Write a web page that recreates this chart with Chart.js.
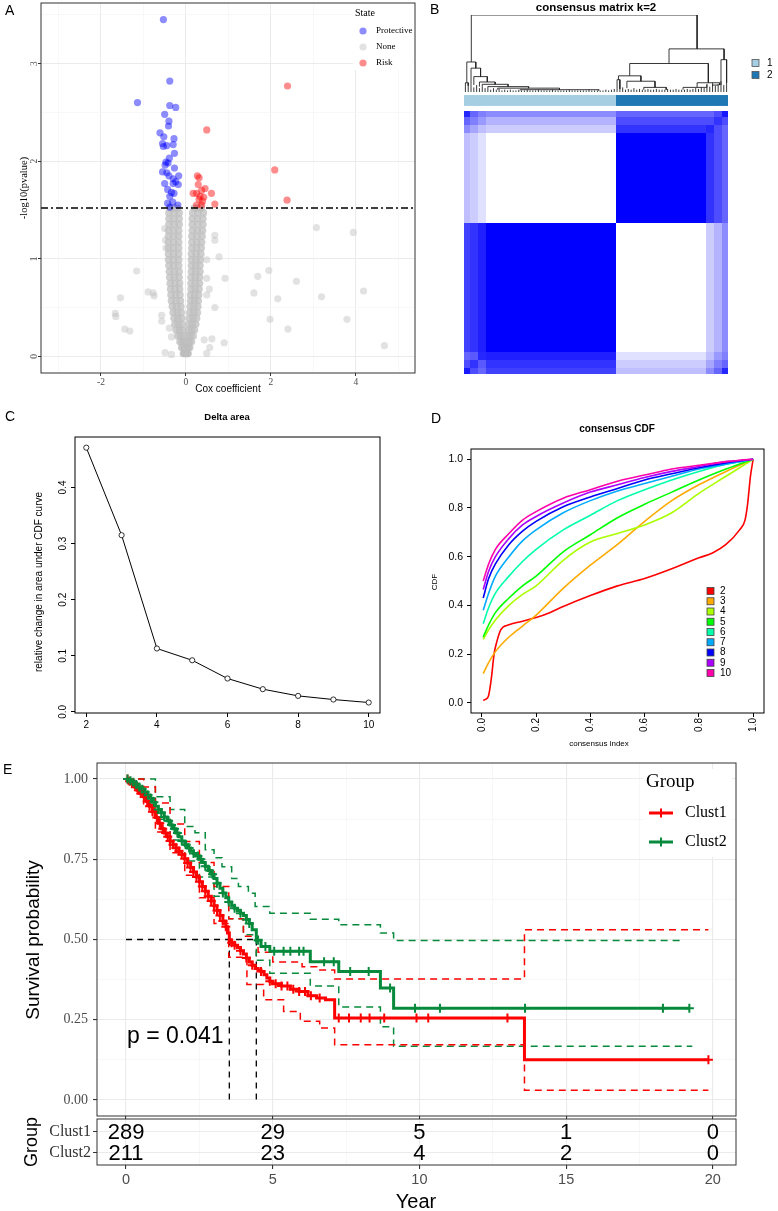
<!DOCTYPE html>
<html>
<head>
<meta charset="utf-8">
<script src="https://cdn.jsdelivr.net/npm/chart.js@4.4.1/dist/chart.umd.min.js"></script>
<style>
  body { margin: 0; background: #fff; }
  #fig { position: relative; width: 778px; height: 1211px; overflow: hidden; }
  #fig canvas { position: absolute; }
  .tag { position: absolute; font: 14px "Liberation Sans", Arial, sans-serif; color: #000; }
</style>
</head>
<body>
<div id="fig">
  <canvas id="cA" width="430" height="395" style="left:0;top:0"></canvas>
  <canvas id="cB" width="348" height="392" style="left:430px;top:0"></canvas>
  <canvas id="cC" width="390" height="335" style="left:0;top:398px"></canvas>
  <canvas id="cD" width="388" height="355" style="left:390px;top:400px"></canvas>
  <canvas id="cE" width="778" height="364" style="left:0;top:755px"></canvas>
  <canvas id="cT" width="778" height="95" style="left:0;top:1116px"></canvas>
  <div class="tag" style="left:5px;top:2px">A</div>
  <div class="tag" style="left:430px;top:1px">B</div>
  <div class="tag" style="left:5px;top:408px">C</div>
  <div class="tag" style="left:431px;top:410px">D</div>
  <div class="tag" style="left:3px;top:761px">E</div>
</div>
<script>
// ---------- A: univariate Cox volcano ----------
const pCut = 1.52;               // -log10(0.03)
const xRangeA = [-3.41, 5.39];
const stateNames = ["Protective", "None", "Risk"];
// significant protective genes
const bx = [-0.53,-0.38,-1.14,-0.38,-0.24,-0.50,-0.40,-0.41,-0.61,-0.52,-0.28,-0.55,-0.45,-0.30,-0.53,-0.27,-0.39,-0.47,-0.42,-0.49,-0.27,-0.55,-0.45,-0.40,-0.17,-0.30,-0.24,-0.50,-0.30,-0.18,-0.43,-0.34,-0.28,-0.38,-0.43,-0.19,-0.38,-0.31];
const by = [3.45,2.82,2.60,2.57,2.55,2.48,2.41,2.36,2.29,2.25,2.23,2.18,2.16,2.17,2.15,2.08,2.03,1.99,1.98,1.96,1.93,1.89,1.88,1.85,1.85,1.82,1.79,1.77,1.77,1.76,1.71,1.68,1.67,1.64,1.57,1.55,1.53,1.58];
// significant risk genes
const rx = [2.39,0.49,2.09,2.38,0.27,0.31,0.29,0.45,0.37,0.17,0.25,0.60,0.42,0.31,0.39,0.68,0.25,0.37,0.33];
const ry = [2.77,2.32,1.91,1.60,1.85,1.83,1.76,1.72,1.70,1.67,1.67,1.67,1.63,1.61,1.59,1.56,1.55,1.55,1.64];
// non-significant outliers
const gx = [3.07,3.94,0.68,0.68,0.78,-1.16,0.92,1.95,1.69,2.60,1.60,2.16,3.19,4.18,-0.89,-0.77,-0.75,-1.54,0.55,0.49,0.68,-1.66,-1.65,-0.57,-0.57,-1.44,-1.32,1.98,2.40,3.79,4.67,-0.39,-0.34,0.43,0.61,0.90,0.56,0.49,-0.49,-0.34,0.49,0.49,-0.47,-0.48,-0.50];
const gy = [1.32,1.27,1.24,1.19,1.02,0.875,0.80,0.88,0.82,0.77,0.65,0.59,0.61,0.67,0.66,0.65,0.62,0.60,0.69,0.63,0.50,0.44,0.41,0.42,0.36,0.28,0.26,0.38,0.28,0.38,0.11,0.29,0.20,0.17,0.18,0.14,0.09,0.03,0.04,0.02,0.99,0.80,1.11,1.19,1.31];
// dense non-significant "V": rows of -log10(p) with left / right arm coefficients
const vY  = [0.03,0.09,0.15,0.21,0.27,0.33,0.39,0.45,0.51,0.57,0.63,0.69,0.75,0.81,0.87,0.93,0.99,1.05,1.11,1.17,1.23,1.29,1.35,1.41,1.47,1.52];
const vLo = [-0.06,-0.10,-0.14,-0.19,-0.23,-0.26,-0.28,-0.30,-0.32,-0.34,-0.35,-0.36,-0.37,-0.38,-0.39,-0.40,-0.41,-0.41,-0.41,-0.41,-0.41,-0.41,-0.40,-0.40,-0.40,-0.36];
const vLm = [-0.04,-0.065,-0.09,-0.125,-0.15,-0.175,-0.19,-0.205,-0.22,-0.235,-0.245,-0.255,-0.26,-0.27,-0.275,-0.285,-0.29,-0.29,-0.29,-0.29,-0.29,-0.29,-0.28,-0.28,-0.28,-0.28];
const vLi = [-0.02,-0.03,-0.04,-0.06,-0.07,-0.09,-0.10,-0.11,-0.12,-0.13,-0.14,-0.15,-0.15,-0.16,-0.16,-0.17,-0.17,-0.17,-0.17,-0.17,-0.17,-0.17,-0.16,-0.16,-0.16,-0.20];
const vRi = [0.02,0.03,0.04,0.05,0.06,0.07,0.08,0.09,0.10,0.11,0.11,0.12,0.12,0.12,0.13,0.13,0.13,0.13,0.14,0.14,0.14,0.15,0.15,0.15,0.16,0.20];
const vRm = [0.035,0.06,0.085,0.11,0.13,0.15,0.165,0.18,0.19,0.20,0.205,0.215,0.22,0.22,0.23,0.23,0.235,0.24,0.25,0.255,0.26,0.27,0.275,0.275,0.285,0.28];
const vRo = [0.05,0.09,0.13,0.17,0.20,0.23,0.25,0.27,0.28,0.29,0.30,0.31,0.32,0.32,0.33,0.33,0.34,0.35,0.36,0.37,0.38,0.39,0.40,0.40,0.41,0.36];

// ---------- B: consensus matrix k=2 ----------
const gStart = [0, 2, 5, 8, 54, 86, 89, 92];     // sample groups in dendrogram order
const gSize  = [2, 3, 3, 46, 32, 3, 3, 2];
const consensus = [
  [0.90,0.70,0.60,0.75,0.25,0.45,0.60,0.85],
  [0.70,0.80,0.65,0.80,0.20,0.35,0.50,0.60],
  [0.60,0.65,0.85,0.88,0.12,0.25,0.40,0.50],
  [0.75,0.80,0.88,1.00,0.00,0.20,0.30,0.45],
  [0.25,0.20,0.12,0.00,1.00,0.80,0.70,0.60],
  [0.45,0.35,0.25,0.20,0.80,0.85,0.70,0.60],
  [0.60,0.50,0.40,0.30,0.70,0.70,0.80,0.70],
  [0.85,0.60,0.50,0.45,0.60,0.60,0.70,0.90]
];
const clusterStart = [0, 54];
const clusterSize  = [54, 40];
const clusterCols  = ["#A6CEE3", "#1F78B4"];
// dendrogram merges: [x left child, x right child, merge height, left child height, right child height]
const dMerge = [
  [2.6, 83, 1.00, 0.39, 0.56],
  [1.0, 4.2, 0.39, 0.12, 0.31],
  [0.5, 1.5, 0.12, 0.12, 0.08],
  [2.5, 5.9, 0.31, 0.10, 0.20],
  [3.5, 8.3, 0.20, 0.09, 0.13],
  [5.5, 11.1, 0.13, 0.07, 0.10],
  [6.5, 15.7, 0.10, 0.07, 0.07],
  [8.5, 23, 0.07, 0.04, 0.05],
  [12, 34, 0.05, 0.03, 0.03],
  [20, 48, 0.03, 0.02, 0.02],
  [73, 92.6, 0.56, 0.37, 0.42],
  [91.5, 93.5, 0.42, 0.09, 0.12],
  [59, 87, 0.37, 0.21, 0.12],
  [55, 63, 0.21, 0.16, 0.14],
  [54.5, 55.5, 0.16, 0.05, 0.04],
  [58, 68, 0.14, 0.05, 0.06],
  [64, 72, 0.06, 0.03, 0.03],
  [83, 91, 0.12, 0.06, 0.09],
  [78, 86.5, 0.06, 0.03, 0.10],
  [88.5, 90.5, 0.09, 0.08, 0.10]
];
const leafH = [0.12,0.08,0.10,0.06,0.09,0.05,0.07,0.05,
  0.04,0.03,0.05,0.03,0.04,0.02,0.03,0.02,0.03,0.02,0.02,0.03,0.02,0.02,0.03,0.02,0.02,0.02,0.03,0.02,0.02,0.02,0.02,0.03,0.02,0.02,0.02,0.02,0.02,0.03,0.02,0.02,0.02,0.02,0.02,0.02,0.03,0.02,0.02,0.02,0.02,0.02,0.03,0.02,0.03,0.04,
  0.05,0.04,0.06,0.03,0.04,0.03,0.05,0.03,0.04,0.03,0.03,0.04,0.03,0.03,0.04,0.03,0.03,0.03,0.04,0.03,0.03,0.04,0.03,0.03,0.03,0.04,0.03,0.04,0.05,0.04,0.06,0.05,
  0.10,0.07,0.12,0.08,0.10,0.14,0.09,0.12];

// ---------- C: delta area ----------
const kVals = [2, 3, 4, 5, 6, 7, 8, 9, 10];
const deltaArea = [0.471, 0.315, 0.113, 0.092, 0.0595, 0.0405, 0.0285, 0.022, 0.0167];

// ---------- D: consensus CDF ----------
const cdf2X = [0.005,0.015,0.025,0.035,0.045,0.055,0.07,0.1,0.15,0.2,0.25,0.3,0.4,0.5,0.6,0.7,0.8,0.85,0.9,0.95,0.97,0.98,0.99,1.0];
const cdf2  = [0.01,0.015,0.03,0.10,0.20,0.25,0.30,0.32,0.335,0.35,0.37,0.395,0.44,0.48,0.51,0.55,0.595,0.615,0.65,0.71,0.75,0.82,0.93,1.0];
const cdfX  = [0.005,0.025,0.05,0.1,0.15,0.2,0.3,0.4,0.5,0.6,0.7,0.8,0.9,0.95,1.0];
const cdf3  = [0.12,0.165,0.21,0.27,0.315,0.36,0.47,0.565,0.65,0.745,0.83,0.895,0.95,0.975,1.0];
const cdf4  = [0.26,0.30,0.34,0.40,0.445,0.48,0.585,0.66,0.695,0.73,0.78,0.86,0.93,0.965,1.0];
const cdf5  = [0.27,0.32,0.37,0.43,0.48,0.52,0.62,0.69,0.76,0.815,0.865,0.915,0.96,0.98,1.0];
const cdf6  = [0.325,0.39,0.45,0.52,0.58,0.63,0.71,0.77,0.83,0.875,0.915,0.95,0.98,0.99,1.0];
const cdf7  = [0.38,0.45,0.52,0.60,0.665,0.71,0.78,0.83,0.87,0.90,0.93,0.96,0.98,0.99,1.0];
const cdf8  = [0.43,0.51,0.57,0.65,0.705,0.745,0.805,0.845,0.88,0.915,0.94,0.965,0.985,0.993,1.0];
const cdf9  = [0.465,0.54,0.60,0.675,0.73,0.765,0.82,0.865,0.895,0.925,0.95,0.97,0.99,0.995,1.0];
const cdf10 = [0.50,0.57,0.63,0.695,0.75,0.785,0.84,0.875,0.91,0.935,0.96,0.975,0.99,0.996,1.0];
const kCols = ["#FF0000","#FFAA00","#AAFF00","#00FF00","#00FFAA","#00AAFF","#0000FF","#AA00FF","#FF00AA"];

// ---------- E: Kaplan-Meier ----------
const groupNames = ["Clust1", "Clust2"];
const km1T = [0,0.1,0.2,0.3,0.4,0.5,0.6,0.7,0.8,0.9,1.0,1.1,1.2,1.3,1.4,1.5,1.6,1.7,1.8,1.9,2.0,2.1,2.2,2.3,2.4,2.5,2.6,2.7,2.8,2.9,3.0,3.1,3.2,3.3,3.4,3.46,3.52,3.6,3.7,3.8,3.9,4.0,4.1,4.2,4.3,4.4,4.5,4.6,4.7,4.8,4.9,5.0,5.3,5.6,5.9,6.2,6.5,6.8,7.11,13.58,19.85];
const km1S = [1,0.993,0.985,0.975,0.965,0.955,0.945,0.93,0.915,0.898,0.88,0.862,0.845,0.832,0.82,0.807,0.795,0.785,0.775,0.765,0.752,0.738,0.724,0.71,0.695,0.68,0.665,0.65,0.635,0.62,0.605,0.59,0.575,0.558,0.54,0.52,0.498,0.49,0.482,0.475,0.465,0.455,0.442,0.43,0.42,0.41,0.405,0.40,0.39,0.38,0.37,0.362,0.355,0.345,0.338,0.325,0.318,0.312,0.255,0.125,0.125];
const km2T = [0,0.1,0.2,0.3,0.4,0.5,0.6,0.7,0.8,0.9,1.0,1.1,1.2,1.3,1.4,1.5,1.6,1.7,1.8,1.9,2.0,2.1,2.2,2.3,2.4,2.5,2.6,2.7,2.8,2.9,3.0,3.1,3.2,3.3,3.4,3.5,3.6,3.7,3.8,3.9,4.0,4.1,4.2,4.3,4.44,4.6,4.9,6.28,7.25,8.67,9.12,19.2];
const km2S = [1,0.995,0.99,0.983,0.975,0.968,0.96,0.95,0.94,0.928,0.915,0.905,0.895,0.882,0.87,0.857,0.845,0.832,0.82,0.807,0.795,0.785,0.775,0.768,0.76,0.75,0.74,0.728,0.715,0.703,0.69,0.675,0.66,0.645,0.63,0.617,0.605,0.597,0.59,0.582,0.575,0.562,0.55,0.53,0.498,0.478,0.463,0.431,0.40,0.349,0.286,0.286];
const ci1UpT = [0,0.3,0.6,1.0,1.5,2.0,2.5,3.0,3.5,4.0,4.5,5.0,6.0,6.5,7.11,13.58,19.85];
const ci1UpS = [1.0,1.0,0.975,0.925,0.86,0.805,0.74,0.665,0.565,0.51,0.46,0.43,0.415,0.405,0.377,0.53,0.53];
const ci1LoT = [0,0.3,0.6,1.0,1.5,2.0,2.5,3.0,3.5,4.12,4.69,5.37,5.94,6.6,7.11,13.58,19.85];
const ci1LoS = [1.0,0.96,0.92,0.835,0.77,0.70,0.63,0.55,0.445,0.36,0.312,0.276,0.245,0.224,0.172,0.03,0.03];
const ci2UpT = [0,0.5,1.0,1.5,2.0,2.35,2.7,3.0,3.27,3.6,3.83,4.17,4.4,4.9,6.28,7.25,8.67,9.12,18.96];
const ci2UpS = [1.0,1.0,0.945,0.905,0.852,0.833,0.78,0.755,0.727,0.69,0.665,0.644,0.603,0.582,0.563,0.546,0.52,0.497,0.497];
const ci2LoT = [0,0.2,0.5,1.0,1.5,2.0,2.5,3.0,3.5,4.0,4.44,4.9,6.28,7.25,8.67,9.12,19.3];
const ci2LoS = [1.0,0.975,0.945,0.875,0.81,0.745,0.695,0.635,0.565,0.515,0.435,0.395,0.355,0.29,0.228,0.167,0.167];
const cens1 = [0.05,0.12,0.2,0.28,0.35,0.42,0.5,0.58,0.65,0.72,0.8,0.9,0.98,1.05,1.15,1.25,1.35,1.42,1.5,1.6,1.7,1.8,1.9,2.0,2.1,2.2,2.3,2.4,2.5,2.6,2.7,2.8,2.9,3.0,3.1,3.2,3.3,3.4,3.6,3.7,3.9,4.1,4.3,4.6,4.9,5.1,5.3,5.5,5.7,5.9,6.1,6.3,6.6,7.25,7.6,8.0,8.3,8.8,9.9,10.3,13.0,19.85];
const cens2 = [0.05,0.15,0.25,0.35,0.45,0.55,0.65,0.75,0.85,0.95,1.1,1.2,1.3,1.45,1.55,1.65,1.75,1.9,2.05,2.15,2.3,2.45,2.55,2.7,2.85,2.95,3.1,3.3,3.5,3.7,3.9,4.1,4.2,4.5,4.75,5.05,5.37,5.6,5.9,6.05,6.75,7.08,7.64,8.27,9.0,9.85,10.7,13.6,18.3,19.2];
const medianT = [3.52, 4.44];
const riskT = [0, 5, 10, 15, 20];
const risk1 = [289, 29, 5, 1, 0];
const risk2 = [211, 23, 4, 2, 0];
const pText = "p = 0.041";

// ---------- helpers ----------
const SANS = '"Liberation Sans", Arial, sans-serif';
const SERIF = '"Liberation Serif", "Times New Roman", serif';
Chart.defaults.font.family = SANS;
const colProt = "rgba(0,0,255,0.45)", colNone = "rgba(190,190,190,0.45)", colRisk = "rgba(255,0,0,0.45)";
const colNoneDense = "rgba(190,190,190,0.75)";   // heavy overplotting inside the V
const colR = "#FF0000", colG = "#078A3C";

const pts = (xs, ys) => xs.map((x, i) => ({ x, y: ys[i] }));
const near = (v, m) => Math.abs(v / m - Math.round(v / m)) < 1e-6;
const fixW = w => s => { s.width = w; s.paddingTop = 0; s.paddingBottom = 0; };
const fixH = h => s => { s.height = h; s.paddingLeft = 0; s.paddingRight = 0; };
const stepAt = (T, S, t) => { let s = S[0]; T.forEach((v, i) => { if (v <= t) s = S[i]; }); return s; };

function base(padding) {
  return {
    responsive: false, animation: false, events: [],
    layout: { padding, autoPadding: false },
    plugins: { legend: { display: false }, tooltip: { enabled: false } }
  };
}
function texts(items) {
  return { id: "texts", afterDraw(chart) {
    const ctx = chart.ctx;
    items.forEach(t => {
      ctx.save();
      ctx.font = t.font; ctx.fillStyle = t.color || "#000";
      ctx.textAlign = t.align || "center"; ctx.textBaseline = "middle";
      ctx.translate(t.x, t.y);
      if (t.rot) ctx.rotate(t.rot * Math.PI / 180);
      ctx.fillText(t.text, 0, 0);
      ctx.restore();
    });
  } };
}
function frame(color, width) {
  return { id: "frame", afterDraw(chart) {
    const { ctx, chartArea: a } = chart;
    ctx.save(); ctx.strokeStyle = color; ctx.lineWidth = width;
    ctx.strokeRect(a.left, a.top, a.right - a.left, a.bottom - a.top);
    ctx.restore();
  } };
}
// tick labels turned parallel to a vertical axis (R / rotated ggplot style)
function rotLabels(axis, x, font, color) {
  return { id: "rotLabels", afterDraw(chart) {
    const s = chart.scales[axis], ctx = chart.ctx;
    ctx.save(); ctx.font = font; ctx.fillStyle = color;
    ctx.textAlign = "center"; ctx.textBaseline = "middle";
    s.ticks.forEach(t => {
      if (t.label === "" || t.label == null) return;
      ctx.save(); ctx.translate(x, s.getPixelForValue(t.value)); ctx.rotate(-Math.PI / 2);
      ctx.fillText(t.label, 0, 0); ctx.restore();
    });
    ctx.restore();
  } };
}
const gridMajor = (m, major, minor) => c => (c.tick && near(c.tick.value, m)) ? major : minor;

// ---------- A ----------
const denseData = [];
vY.forEach((y, i) => [vLo, vLm, vLi, vRi, vRm, vRo].forEach(arm => denseData.push({ x: arm[i], y })));

const legendA = { id: "legendA", afterDraw(chart) {
  const ctx = chart.ctx, cols = [colProt, colNone, colRisk];
  ctx.save();
  ctx.fillStyle = "#fff"; ctx.fillRect(353, 4, 61, 66);
  ctx.textAlign = "left"; ctx.textBaseline = "middle";
  ctx.fillStyle = "#000"; ctx.font = "10px " + SERIF; ctx.fillText("State", 355, 13);
  ctx.font = "9px " + SERIF;
  stateNames.forEach((n, i) => {
    const y = 31 + i * 16;
    ctx.beginPath(); ctx.arc(363, y, 3.6, 0, 2 * Math.PI); ctx.fillStyle = cols[i]; ctx.fill();
    ctx.fillStyle = "#000"; ctx.fillText(n, 376, y);
  });
  ctx.restore();
} };

new Chart(document.getElementById("cA"), {
  type: "scatter",
  data: { datasets: [
    { type: "line", data: [{ x: xRangeA[0], y: pCut }, { x: xRangeA[1], y: pCut }], borderColor: "#000", borderWidth: 1.3, borderDash: [7, 3, 2, 3], pointRadius: 0, order: 0 },
    { label: "Risk", data: pts(rx, ry), backgroundColor: colRisk, borderWidth: 0, pointRadius: 3.6, order: 1 },
    { label: "Protective", data: pts(bx, by), backgroundColor: colProt, borderWidth: 0, pointRadius: 3.6, order: 2 },
    { label: "None", data: pts(gx, gy), backgroundColor: colNone, borderWidth: 0, pointRadius: 3.6, order: 3 },
    { label: "None", data: denseData, backgroundColor: colNoneDense, borderWidth: 0, pointRadius: 3.8, order: 4 }
  ] },
  options: { ...base({ left: 0, top: 3, right: 15, bottom: 0 }),
    scales: {
      x: { type: "linear", min: xRangeA[0], max: xRangeA[1], afterFit: fixH(22), border: { display: false },
        ticks: { stepSize: 1, includeBounds: false, autoSkip: false, maxRotation: 0, padding: 1, color: "#4D4D4D",
          font: { family: SERIF, size: 9.5 }, callback: v => near(v, 2) ? String(v) : "" },
        grid: { color: gridMajor(2, "#EBEBEB", "#F4F4F4"), lineWidth: gridMajor(2, 1, 0.6), tickLength: 3,
          tickColor: gridMajor(2, "#333", "rgba(0,0,0,0)") } },
      y: { type: "linear", min: -0.17, max: 3.62, afterFit: fixW(41), border: { display: false },
        ticks: { display: false, stepSize: 0.5, includeBounds: false, callback: v => near(v, 1) ? String(v) : "" },
        grid: { color: gridMajor(1, "#EBEBEB", "#F4F4F4"), lineWidth: gridMajor(1, 1, 0.6), tickLength: 3,
          tickColor: gridMajor(1, "#333", "rgba(0,0,0,0)") } }
    } },
  plugins: [frame("#333", 1), rotLabels("y", 34, "9.5px " + SERIF, "#4D4D4D"), legendA,
    texts([
      { text: "Cox coefficient", x: 228, y: 389, font: "10px " + SANS },
      { text: "-log10(pvalue)", x: 24, y: 188, rot: -90, font: "10.5px " + SERIF }
    ])]
});

// ---------- B ----------
const dendro = [];
dMerge.forEach(([xl, xr, h, hl, hr]) => {
  dendro.push({ x: xl, y: hl }, { x: xl, y: h }, { x: xr, y: h }, { x: xr, y: hr }, { x: xr, y: null });
});
leafH.forEach((h, i) => dendro.push({ x: i + 0.5, y: 0 }, { x: i + 0.5, y: h }, { x: i + 0.5, y: null }));

const heatB = { id: "heatB",
  beforeDatasetsDraw(chart) {
    const { ctx, scales: { x, y } } = chart;
    ctx.save();
    gStart.forEach((cs, i) => gStart.forEach((rs, j) => {
      const x0 = Math.round(x.getPixelForValue(cs)), x1 = Math.round(x.getPixelForValue(cs + gSize[i]));
      const y0 = Math.round(y.getPixelForValue(rs + gSize[j])), y1 = Math.round(y.getPixelForValue(rs));
      const c = Math.round(255 * (1 - consensus[j][i]));
      ctx.fillStyle = `rgb(${c},${c},255)`;
      ctx.fillRect(x0, y0, x1 - x0, y1 - y0);
    }));
    clusterStart.forEach((s, i) => {
      const x0 = Math.round(x.getPixelForValue(s)), x1 = Math.round(x.getPixelForValue(s + clusterSize[i]));
      const y0 = y.getPixelForValue(99.7), y1 = y.getPixelForValue(95.8);
      ctx.fillStyle = clusterCols[i];
      ctx.fillRect(x0, y0, x1 - x0, y1 - y0);
    });
    ctx.restore();
  },
  afterDraw(chart) {
    const { ctx, scales: { x } } = chart;
    ctx.save();
    ctx.fillStyle = "#000"; ctx.font = "bold 11.5px " + SANS; ctx.textAlign = "center"; ctx.textBaseline = "middle";
    ctx.fillText("consensus matrix k=2", x.getPixelForValue(47), 8);
    ctx.font = "10px " + SANS; ctx.textAlign = "left";
    clusterCols.forEach((c, i) => {
      const yy = 63 + i * 12;
      ctx.fillStyle = c; ctx.fillRect(322, yy - 3.5, 7, 7);
      ctx.strokeStyle = "#555"; ctx.lineWidth = 0.8; ctx.strokeRect(322, yy - 3.5, 7, 7);
      ctx.fillStyle = "#000"; ctx.fillText(String(i + 1), 337, yy);
    });
    ctx.restore();
  } };

new Chart(document.getElementById("cB"), {
  type: "line",
  data: { datasets: [{ data: dendro, yAxisID: "yd", borderColor: "#222", borderWidth: 0.9, pointRadius: 0, spanGaps: false, tension: 0 }] },
  options: { ...base({ left: 34, top: 15, right: 50, bottom: 18 }),
    scales: {
      x: { type: "linear", min: 0, max: 94, display: false },
      y: { type: "linear", min: 0, max: 128.3, display: false },
      yd: { type: "linear", min: -3.662, max: 1, display: false }
    } },
  plugins: [heatB]
});

// ---------- C ----------
new Chart(document.getElementById("cC"), {
  type: "line",
  data: { datasets: [{ data: pts(kVals, deltaArea), borderColor: "#000", borderWidth: 1, tension: 0,
    pointRadius: 2.6, pointBackgroundColor: "#fff", pointBorderColor: "#000", pointBorderWidth: 0.8 }] },
  options: { ...base({ left: 0, top: 39, right: 10, bottom: 0 }),
    scales: {
      x: { type: "linear", min: 1.68, max: 10.32, afterFit: fixH(20), border: { display: false },
        ticks: { stepSize: 2, includeBounds: false, autoSkip: false, maxRotation: 0, padding: 2, color: "#000", font: { size: 10 } },
        grid: { drawOnChartArea: false, tickLength: 4, tickColor: "#000" } },
      y: { type: "linear", min: -0.002, max: 0.49, afterFit: fixW(75), border: { display: false },
        ticks: { display: false, stepSize: 0.1, includeBounds: false, callback: v => v.toFixed(1) },
        grid: { drawOnChartArea: false, tickLength: 4, tickColor: "#000" } }
    } },
  plugins: [frame("#000", 1), rotLabels("y", 63, "10px " + SANS, "#000"),
    texts([
      { text: "Delta area", x: 227, y: 19, font: "bold 9.5px " + SANS },
      { text: "relative change in area under CDF curve", x: 39, y: 184, rot: -90, font: "10px " + SANS }
    ])]
});

// ---------- D ----------
const cdfSets = [cdf2, cdf3, cdf4, cdf5, cdf6, cdf7, cdf8, cdf9, cdf10];
const legendD = { id: "legendD", afterDraw(chart) {
  const ctx = chart.ctx;
  ctx.save(); ctx.font = "10px " + SANS; ctx.textAlign = "left"; ctx.textBaseline = "middle";
  kVals.forEach((k, i) => {
    const yy = 191 + i * 10.25;
    ctx.fillStyle = kCols[i]; ctx.fillRect(317, yy - 3.5, 7, 7);
    ctx.strokeStyle = "#444"; ctx.lineWidth = 0.8; ctx.strokeRect(317, yy - 3.5, 7, 7);
    ctx.fillStyle = "#000"; ctx.fillText(String(k), 330, yy);
  });
  ctx.restore();
} };

new Chart(document.getElementById("cD"), {
  type: "line",
  data: { datasets: cdfSets.map((ys, i) => ({
    data: pts(i === 0 ? cdf2X : cdfX, ys), borderColor: kCols[i], borderWidth: 1.6, pointRadius: 0,
    cubicInterpolationMode: "monotone", order: 9 - i })) },
  options: { ...base({ left: 0, top: 49, right: 14, bottom: 0 }),
    scales: {
      x: { type: "linear", min: -0.04, max: 1.04, afterFit: fixH(42), border: { display: false },
        ticks: { stepSize: 0.2, includeBounds: false, autoSkip: false, minRotation: 90, maxRotation: 90, padding: 1,
          color: "#000", font: { size: 10 }, callback: v => v.toFixed(1) },
        grid: { drawOnChartArea: false, tickLength: 4, tickColor: "#000" } },
      y: { type: "linear", min: -0.042, max: 1.042, afterFit: fixW(81), border: { display: false },
        ticks: { stepSize: 0.2, includeBounds: false, padding: 4, color: "#000", font: { size: 10.5 }, callback: v => v.toFixed(1) },
        grid: { drawOnChartArea: false, tickLength: 4, tickColor: "#000" } }
    } },
  plugins: [frame("#000", 1), legendD,
    texts([
      { text: "consensus CDF", x: 227, y: 29, font: "bold 10px " + SANS },
      { text: "CDF", x: 45, y: 182, rot: -90, font: "8px " + SANS },
      { text: "consensus index", x: 209, y: 344, font: "8px " + SANS }
    ])]
});

// ---------- E: survival curves ----------
const ciSet = (T, S, col) => ({ data: pts(T, S), stepped: true, borderColor: col, borderWidth: 1.5, borderDash: [7, 5], pointRadius: 0, order: 4 });
const censSet = (C, T, S, col, ord) => ({ data: C.map(t => ({ x: t, y: stepAt(T, S, t) })), showLine: false,
  pointStyle: "cross", pointRadius: 4.5, pointBorderWidth: 2, borderColor: col, pointBorderColor: col, order: ord });
const medianPts = [
  { x: 0, y: 0.5 }, { x: medianT[1], y: 0.5 }, { x: medianT[1], y: null },
  { x: medianT[0], y: 0.5 }, { x: medianT[0], y: 0 }, { x: medianT[0], y: null },
  { x: medianT[1], y: 0.5 }, { x: medianT[1], y: 0 }
];
const legendE = { id: "legendE", afterDraw(chart) {
  const ctx = chart.ctx, cols = [colR, colG];
  ctx.save();
  ctx.fillStyle = "#fff"; ctx.fillRect(644, 14, 88, 88);
  ctx.textAlign = "left"; ctx.textBaseline = "middle";
  ctx.fillStyle = "#000"; ctx.font = "19px " + SERIF; ctx.fillText("Group", 646, 27);
  ctx.font = "16px " + SERIF;
  groupNames.forEach((n, i) => {
    const yy = 58 + i * 29;
    ctx.strokeStyle = cols[i]; ctx.lineWidth = 3;
    ctx.beginPath(); ctx.moveTo(649, yy); ctx.lineTo(673, yy); ctx.stroke();
    ctx.lineWidth = 2; ctx.beginPath(); ctx.moveTo(661, yy - 4.5); ctx.lineTo(661, yy + 4.5); ctx.stroke();
    ctx.fillStyle = "#000"; ctx.fillText(n, 685, yy);
  });
  ctx.restore();
} };

new Chart(document.getElementById("cE"), {
  type: "line",
  data: { datasets: [
    ciSet(ci1UpT, ci1UpS, colR), ciSet(ci1LoT, ci1LoS, colR),
    ciSet(ci2UpT, ci2UpS, colG), ciSet(ci2LoT, ci2LoS, colG),
    { data: pts(km1T, km1S), stepped: true, borderColor: colR, borderWidth: 3, pointRadius: 0, order: 2.2 },
    { data: pts(km2T, km2S), stepped: true, borderColor: colG, borderWidth: 3, pointRadius: 0, order: 2 },
    censSet(cens1, km1T, km1S, colR, 1.2), censSet(cens2, km2T, km2S, colG, 1),
    { data: medianPts, borderColor: "#000", borderWidth: 1.3, borderDash: [6, 5], pointRadius: 0, spanGaps: false, order: 5 }
  ] },
  options: { ...base({ left: 0, top: 8, right: 42, bottom: 0 }),
    scales: {
      x: { type: "linear", min: -0.99, max: 20.79, afterFit: fixH(3), border: { display: false },
        ticks: { display: false, stepSize: 2.5, includeBounds: false, autoSkip: false },
        grid: { color: gridMajor(5, "#EBEBEB", "#F2F2F2"), lineWidth: gridMajor(5, 1.1, 0.6), tickLength: 3,
          tickColor: gridMajor(5, "#333", "rgba(0,0,0,0)") } },
      y: { type: "linear", min: -0.05, max: 1.05, afterFit: fixW(97), border: { display: false },
        ticks: { stepSize: 0.125, includeBounds: false, autoSkip: false, padding: 5, color: "#4D4D4D",
          font: { family: SERIF, size: 14 }, callback: v => near(v, 0.25) ? v.toFixed(2) : "" },
        grid: { color: gridMajor(0.25, "#EBEBEB", "#F2F2F2"), lineWidth: gridMajor(0.25, 1.1, 0.6), tickLength: 4,
          tickColor: gridMajor(0.25, "#333", "rgba(0,0,0,0)") } }
    } },
  plugins: [frame("#333", 1), legendE,
    texts([
      { text: "Survival probability", x: 34, y: 185, rot: -90, font: "19px " + SANS },
      { text: pText, x: 127, y: 282, align: "left", font: "23px " + SANS }
    ])]
});

// ---------- E: number at risk ----------
const riskCounts = [risk1, risk2];
const riskNums = { id: "riskNums", afterDatasetsDraw(chart) {
  const ctx = chart.ctx;
  ctx.save(); ctx.font = "22px " + SANS; ctx.fillStyle = "#000"; ctx.textAlign = "center"; ctx.textBaseline = "middle";
  riskCounts.forEach((row, d) => chart.getDatasetMeta(d).data.forEach((el, i) => ctx.fillText(String(row[i]), el.x, el.y + 1)));
  ctx.restore();
} };

new Chart(document.getElementById("cT"), {
  type: "line",
  data: { datasets: riskCounts.map((row, d) => ({ data: riskT.map(t => ({ x: t, y: d + 1 })), showLine: false, pointRadius: 0 })) },
  options: { ...base({ left: 0, top: 3, right: 42, bottom: 0 }),
    scales: {
      x: { type: "linear", min: -0.99, max: 20.79, afterFit: fixH(46), border: { display: false },
        ticks: { stepSize: 2.5, includeBounds: false, autoSkip: false, maxRotation: 0, padding: 2, color: "#4D4D4D",
          font: { size: 14.5 }, callback: v => near(v, 5) ? String(v) : "" },
        grid: { color: gridMajor(5, "#EBEBEB", "#F2F2F2"), lineWidth: gridMajor(5, 1.1, 0.6), tickLength: 4,
          tickColor: gridMajor(5, "#333", "rgba(0,0,0,0)") } },
      y: { type: "linear", min: 0.4, max: 2.6, reverse: true, afterFit: fixW(97), border: { display: false },
        ticks: { stepSize: 1, includeBounds: false, padding: 2, color: "#333", font: { family: SERIF, size: 16 },
          callback: v => groupNames[Math.round(v) - 1] },
        grid: { color: "#EBEBEB", tickLength: 4, tickColor: "#333" } }
    } },
  plugins: [frame("#333", 1), riskNums,
    texts([
      { text: "Group", x: 32, y: 26, rot: -90, font: "18px " + SANS },
      { text: "Year", x: 416, y: 86, font: "20px " + SANS }
    ])]
});
</script>
</body>
</html>
